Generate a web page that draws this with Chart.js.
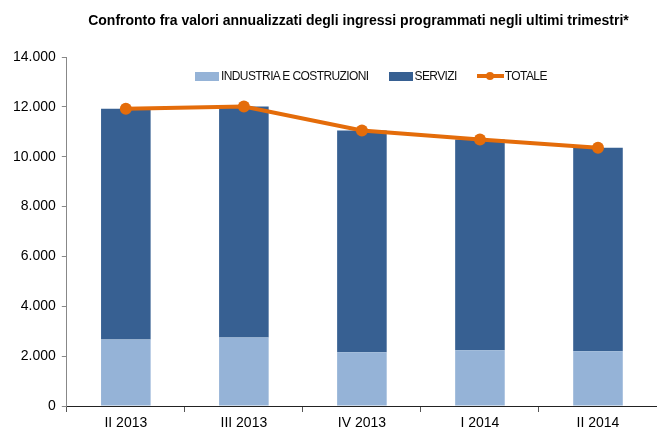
<!DOCTYPE html>
<html>
<head>
<meta charset="utf-8">
<script src="https://cdn.jsdelivr.net/npm/chart.js@4"></script>
<style>
  html, body { margin: 0; padding: 0; background: #fff; overflow: hidden; }
  #wrap { position: relative; width: 657px; height: 434px; overflow: hidden; }
  #title {
    position: absolute; left: 60px; width: 597px; top: 12px;
    text-align: center; font: bold 14px "Liberation Sans", Arial, sans-serif;
    color: #000;
  }
  #legend {
    position: absolute; left: 195px; top: 69px;
    display: flex; align-items: center;
    font: 12px "Liberation Sans", Arial, sans-serif; letter-spacing: -0.6px; color: #111;
  }
  .item { display: flex; align-items: center; margin-right: 20px; }
  .box { width: 24px; height: 9px; margin-right: 2px; }
  .lineKey { position: relative; width: 27px; height: 12px; margin-right: 1px; }
  .lineKey .bar { position: absolute; left: 0; right: 0; top: 4px; height: 4px; }
  .lineKey .dot { position: absolute; left: 9px; top: 2px; width: 8px; height: 8px; border-radius: 50%; }
  canvas { position: absolute; left: 0; top: 0; }
</style>
</head>
<body>
<div id="wrap">
  <canvas id="chart" width="663" height="434"></canvas>
  <div id="title">Confronto fra valori annualizzati degli ingressi programmati negli ultimi trimestri*</div>
  <div id="legend"></div>
</div>
<script>
// Data
const categories = ['II 2013', 'III 2013', 'IV 2013', 'I 2014', 'II 2014'];
const industria = [2670, 2750, 2160, 2240, 2200];
const servizi = [9250, 9260, 8890, 8450, 8160];
const totale = [11920, 12010, 11050, 10690, 10360];
const yTicks = [0, 2000, 4000, 6000, 8000, 10000, 12000, 14000];

const font = "'Liberation Sans', Arial, sans-serif";

function formatIt(v) {
    if (v === 0) return '0';
    return String(v).replace(/\B(?=(\d{3})+(?!\d))/g, '.');
}

const ctx = document.getElementById('chart').getContext('2d');
const chart = new Chart(ctx, {
    type: 'bar',
    data: {
        labels: categories,
        datasets: [
            {
                label: 'INDUSTRIA E COSTRUZIONI',
                data: industria,
                backgroundColor: '#95B3D7',
                stack: 's',
                order: 1,
                categoryPercentage: 1,
                barPercentage: 0.42
            },
            {
                label: 'SERVIZI',
                data: servizi,
                backgroundColor: '#376092',
                stack: 's',
                order: 1,
                categoryPercentage: 1,
                barPercentage: 0.42
            },
            {
                type: 'line',
                label: 'TOTALE',
                data: totale,
                borderColor: '#E46C0A',
                backgroundColor: '#E46C0A',
                borderWidth: 4,
                pointRadius: 6,
                pointBorderWidth: 0,
                pointBackgroundColor: '#E46C0A',
                tension: 0,
                order: 0
            }
        ]
    },
    options: {
        responsive: false,
        animation: false,
        layout: { padding: { top: 57, right: 0, left: 7, bottom: 0 } },
        plugins: {
            tooltip: { enabled: false },
            legend: { display: false }
        },
        scales: {
            x: {
                stacked: true,
                grid: { drawOnChartArea: false, drawTicks: true, tickLength: 6, color: '#555', offset: true },
                border: { color: '#222', width: 1 },
                ticks: { color: '#000', font: { family: font, size: 14, lineHeight: 1 }, padding: 4 }
            },
            y: {
                stacked: true,
                min: 0,
                max: 14000,
                afterBuildTicks: axis => { axis.ticks = yTicks.map(v => ({ value: v })); },
                grid: { drawOnChartArea: false, drawTicks: true, tickLength: 5, color: '#888' },
                border: { color: '#888', width: 1 },
                ticks: {
                    color: '#000',
                    font: { family: font, size: 14 },
                    padding: 6,
                    callback: v => formatIt(v)
                }
            }
        }
    }
});

// HTML legend built from the datasets
const legendEl = document.getElementById('legend');
chart.data.datasets.forEach(ds => {
    const item = document.createElement('div');
    item.className = 'item';
    if (ds.type === 'line') {
        item.innerHTML = '<div class="lineKey"><div class="bar"></div><div class="dot"></div></div>';
        item.querySelector('.bar').style.background = ds.borderColor;
        item.querySelector('.dot').style.background = ds.borderColor;
    } else {
        item.innerHTML = '<div class="box"></div>';
        item.querySelector('.box').style.background = ds.backgroundColor;
    }
    const txt = document.createElement('span');
    txt.textContent = ds.label;
    item.appendChild(txt);
    legendEl.appendChild(item);
});
</script>
</body>
</html>
